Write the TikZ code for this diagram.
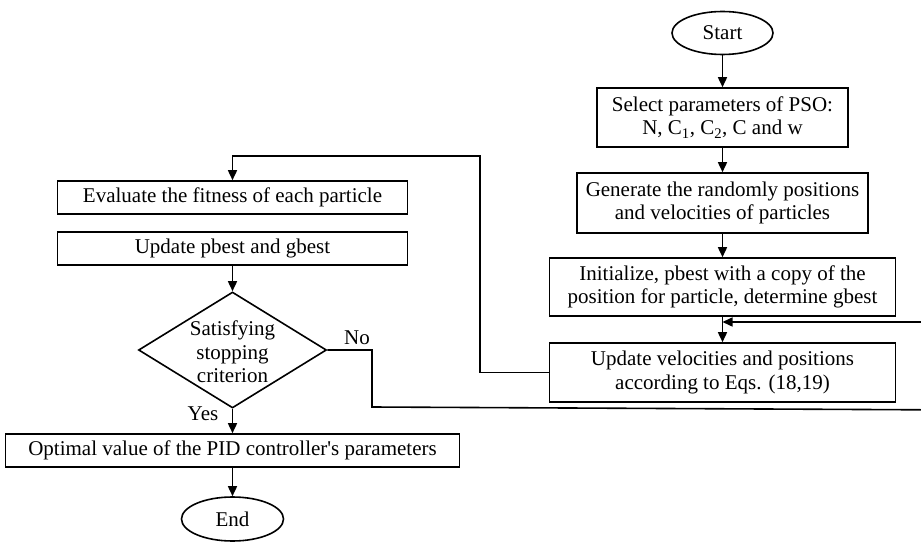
\documentclass[tikz,border=0pt]{standalone}
\usepackage{fontspec}
\setmainfont{Liberation Serif}
\usetikzlibrary{shapes.geometric,arrows.meta}
\newcommand\fsz{\fontsize{21}{23.3}\selectfont}
\begin{document}
\begin{tikzpicture}[x=1pt,y=-1pt,
  box/.style={draw, line width=1.6pt, rectangle, inner sep=0pt, align=center, font=\fsz},
  term/.style={draw, line width=1.6pt, ellipse, inner sep=0pt, font=\fsz},
  dia/.style={draw, line width=1.6pt, diamond, inner sep=0pt},
  lbl/.style={inner sep=0pt, align=center, font=\fsz},
  arr/.style={line width=1.6pt, -{Triangle[length=10pt,width=9pt]}},
  ln/.style={line width=1.6pt}]
\useasboundingbox (0,0) rectangle (921,548);
% right column
\node[term, minimum width=101pt, minimum height=43pt] (start) at (722.5,33) {Start};
\node[box, minimum width=251pt, minimum height=59pt] (sel) at (722.5,117.5) {Select parameters of PSO:\\N, C\textsubscript{1}, C\textsubscript{2}, C and w};
\node[box, minimum width=291pt, minimum height=60pt] (gen) at (722.5,203) {Generate the randomly positions\\and velocities of particles};
\node[box, minimum width=346pt, minimum height=58pt] (init) at (722.5,287) {Initialize, pbest with a copy of the\\position for particle, determine gbest};
\node[box, minimum width=346pt, minimum height=59pt] (upd) at (722.5,372.5) {Update velocities and positions\\according to Eqs. (18,19)};
% left column
\node[box, minimum width=350pt, minimum height=33pt] (eval) at (232.5,197.5) {Evaluate the fitness of each particle};
\node[box, minimum width=350pt, minimum height=33pt] (pb) at (232.5,248.5) {Update pbest and gbest};
\node[dia, minimum width=188pt, minimum height=116pt] (dia) at (232.5,350) {};
\node[lbl] (diat) at (232.5,352) {Satisfying\\stopping\\criterion};
\node[box, minimum width=454pt, minimum height=33pt] (opt) at (232.5,450.5) {Optimal value of the PID controller\textquotesingle s parameters};
\node[term, minimum width=102pt, minimum height=44pt] (end) at (232.5,519) {End};
\node[lbl] (no) at (357,338) {No};
\node[lbl] (yes) at (203,414) {Yes};
% connectors
\coordinate (c1) at (480,156);
\coordinate (ret) at (722.5,322);
\draw[arr] (start) -- (sel);
\draw[arr] (sel) -- (gen);
\draw[arr] (gen) -- (init);
\draw[arr] (init) -- (upd);
\draw[arr] (upd.west) -| (c1) -| (eval.north);
\draw[arr] (pb) -- (dia);
\draw[arr] (dia) -- (opt);
\draw[arr] (opt) -- (end);
\draw[arr] (dia.east) -- (372,350) -- (372,407) -- (960,410) |- (ret);
\end{tikzpicture}
\end{document}
